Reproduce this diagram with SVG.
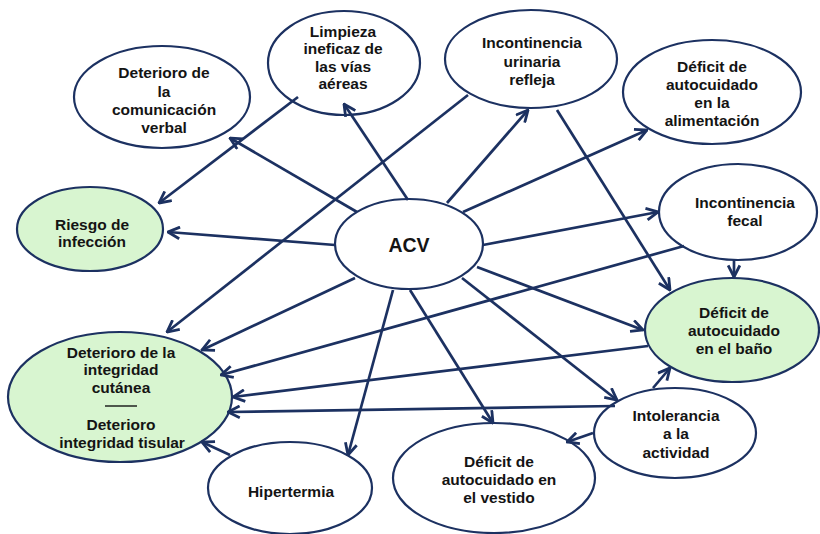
<svg xmlns="http://www.w3.org/2000/svg" width="820" height="534" viewBox="0 0 820 534">
<defs>
<marker id="ah" viewBox="0 0 12 12" refX="11" refY="6" markerWidth="14" markerHeight="14" markerUnits="userSpaceOnUse" orient="auto">
<path d="M1,1 L11,6 L1,11" fill="none" stroke="#1c3161" stroke-width="2.4" stroke-linejoin="miter"/>
</marker>
<style>
.n{fill:#ffffff;stroke:#1c3161;stroke-width:2.2}
.g{fill:#d8f5d0;stroke:#1c3161;stroke-width:2.2}
text{font-family:"Liberation Sans",Arial,sans-serif;font-weight:bold;font-size:15.5px;fill:#141414;text-anchor:middle}
.big{font-size:19.5px}
.c line{stroke:#1c3161;stroke-width:2.7;marker-end:url(#ah)}
</style>
</defs>
<rect width="820" height="534" fill="#ffffff"/>
<g id="n-comunicacion"><ellipse class="n" cx="162" cy="97" rx="88" ry="51"/><text x="164" y="78">Deterioro de</text><text x="164" y="97">la</text><text x="164" y="115">comunicación</text><text x="164" y="133">verbal</text></g>
<g id="n-limpieza"><ellipse class="n" cx="344" cy="63" rx="76" ry="52"/><text x="343" y="37">Limpieza</text><text x="343" y="54">ineficaz de</text><text x="343" y="72">las vías</text><text x="343" y="89">aéreas</text></g>
<g id="n-urinaria"><ellipse class="n" cx="531" cy="59" rx="86" ry="49"/><text x="532" y="48">Incontinencia</text><text x="532" y="67">urinaria</text><text x="532" y="85">refleja</text></g>
<g id="n-alimentacion"><ellipse class="n" cx="712" cy="92" rx="89" ry="52"/><text x="712" y="72">Déficit de</text><text x="712" y="90">autocuidado</text><text x="712" y="108">en la</text><text x="712" y="126">alimentación</text></g>
<g id="n-fecal"><ellipse class="n" cx="738" cy="212" rx="79" ry="48"/><text x="745" y="208">Incontinencia</text><text x="745" y="226">fecal</text></g>
<g id="n-bano"><ellipse class="g" cx="732" cy="330" rx="87" ry="52"/><text x="734" y="318">Déficit de</text><text x="734" y="336">autocuidado</text><text x="734" y="354">en el baño</text></g>
<g id="n-intolerancia"><ellipse class="n" cx="675" cy="433" rx="81" ry="45"/><text x="676" y="421">Intolerancia</text><text x="676" y="439">a la</text><text x="676" y="458">actividad</text></g>
<g id="n-vestido"><ellipse class="n" cx="494" cy="478" rx="101" ry="55"/><text x="499" y="467">Déficit de</text><text x="499" y="485">autocuidado en</text><text x="499" y="503">el vestido</text></g>
<g id="n-hipertermia"><ellipse class="n" cx="290" cy="488" rx="82" ry="46"/><text x="291" y="497">Hipertermia</text></g>
<g id="n-integridad"><ellipse class="g" cx="120" cy="397" rx="112" ry="65"/><text x="121" y="358">Deterioro de la</text><text x="121" y="375">integridad</text><text x="121" y="393">cutánea</text><line x1="105" y1="406" x2="137" y2="406" stroke="#141414" stroke-width="1.4"/><text x="121" y="430">Deterioro</text><text x="122" y="448">integridad tisular</text></g>
<g id="n-riesgo"><ellipse class="g" cx="90" cy="229" rx="73" ry="42"/><text x="92" y="230">Riesgo de</text><text x="92" y="247">infección</text></g>
<g id="n-acv"><ellipse class="n" cx="409" cy="244" rx="74" ry="45"/><text class="big" x="409" y="252">ACV</text></g>
<g id="connectors" class="c">
<line x1="357" y1="212" x2="230" y2="138"/>
<line x1="408" y1="200" x2="344" y2="104"/>
<line x1="298" y1="97" x2="159" y2="203"/>
<line x1="335" y1="245" x2="168" y2="232"/>
<line x1="468" y1="95" x2="167" y2="332"/>
<line x1="447" y1="203" x2="528" y2="110"/>
<line x1="463" y1="212" x2="647" y2="130"/>
<line x1="483" y1="245" x2="658" y2="212"/>
<line x1="557" y1="110" x2="670" y2="290"/>
<line x1="734" y1="260" x2="734" y2="277"/>
<line x1="684" y1="246" x2="221" y2="375"/>
<line x1="477" y1="267" x2="643" y2="330"/>
<line x1="648" y1="346" x2="233" y2="397"/>
<line x1="615" y1="406" x2="228" y2="412"/>
<line x1="653" y1="388" x2="670" y2="368"/>
<line x1="462" y1="278" x2="617" y2="400"/>
<line x1="593" y1="433" x2="567" y2="442"/>
<line x1="410" y1="290" x2="493" y2="423"/>
<line x1="393" y1="290" x2="348" y2="455"/>
<line x1="230" y1="455" x2="202" y2="442"/>
<line x1="355" y1="278" x2="202" y2="350"/>
</g>
</svg>
